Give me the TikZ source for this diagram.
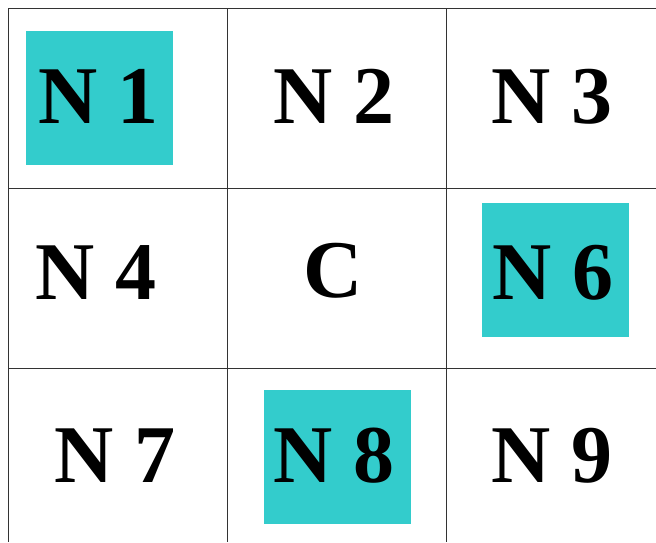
\documentclass[tikz,border=0pt]{standalone}
\usepackage{fontspec}
\setmainfont{Liberation Serif}
\definecolor{cellteal}{HTML}{33CCCC}
\definecolor{gridgray}{HTML}{333333}
\begin{document}
\begin{tikzpicture}[x=1pt, y=-1pt,
    label/.style={anchor=base, inner sep=0pt, font=\fontsize{82}{82}\selectfont\bfseries},
    mark box/.style={fill=cellteal, minimum width=147pt, minimum height=134pt, inner sep=0pt}]
  \useasboundingbox (0,0) rectangle (656,542);

  % Grid
  \foreach \x in {8,227,446}
    \draw[gridgray, line width=1pt] (\x,8) -- (\x,542);
  \foreach \y in {8,188,368}
    \draw[gridgray, line width=1pt] (8,\y) -- (656,\y);

  % Marked cells
  \node[mark box] (b1) at (99.5,98) {};
  \node[mark box] (b6) at (555.5,270) {};
  \node[mark box] (b8) at (337,457) {};

  % Labels
  \node[label] (n1) at (98.5,123) {N 1};
  \node[label] (n2) at (334,123) {N 2};
  \node[label] (n3) at (552,123) {N 3};
  \node[label] (n4) at (96,299) {N 4};
  \node[label] (c)  at (333,297) {C};
  \node[label] (n6) at (553,299) {N 6};
  \node[label] (n7) at (115,482) {N 7};
  \node[label] (n8) at (334,482) {N 8};
  \node[label] (n9) at (552,482) {N 9};
\end{tikzpicture}
\end{document}
